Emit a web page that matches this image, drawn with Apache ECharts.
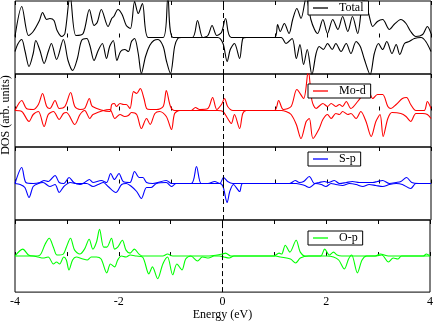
<!DOCTYPE html>
<html>
<head>
<meta charset="utf-8">
<script src="https://cdn.jsdelivr.net/npm/echarts@6/dist/echarts.min.js"></script>
<style>
  html, body { margin: 0; padding: 0; background: #fff; }
  #main { width: 436px; height: 322px; }
</style>
</head>
<body>
<div id="main"></div>
<script>
// projected DOS, [energy (eV), DOS]; spin down is negative
var panelNames = ['Total', 'Mo-d', 'S-p', 'O-p'];
var energyLabels = [-4, -2, 0, 2, 4];

var totalUp = [[-4.00,1],[-3.87,31],[-3.74,2],[-3.65,6],[-3.53,17],[-3.47,25],[-3.39,18],[-3.33,19],[-3.25,17],[-3.19,7],[-3.10,1],[-3.04,4],[-2.94,42],[-2.83,2],[-2.69,4],[-2.57,28],[-2.48,12],[-2.42,15],[-2.34,28],[-2.21,11],[-2.14,19],[-2.10,21],[-2.02,28],[-1.94,23],[-1.86,12],[-1.78,9],[-1.70,36],[-1.63,24],[-1.55,34],[-1.44,0],[-1.15,0],[-1.06,40],[-0.96,0],[-0.59,0],[-0.49,17],[-0.39,0],[-0.29,2],[-0.21,12],[-0.12,2],[-0.03,5],[0.05,19],[0.16,0],[0.99,0],[1.05,13],[1.10,6],[1.18,14],[1.27,4],[1.34,18],[1.42,29],[1.50,19],[1.60,40],[1.69,18],[1.76,8],[1.82,4],[1.92,18],[2.01,4],[2.11,18],[2.21,8],[2.30,21],[2.40,6],[2.49,21],[2.59,4],[2.70,38],[2.80,24],[2.88,11],[2.97,16],[3.07,18],[3.20,8],[3.29,13],[3.42,18],[3.52,14],[3.61,6],[3.71,1],[3.84,3],[3.93,11],[4.00,4]];
var totalDn = [[-4.00,-14],[-3.94,-6],[-3.87,-2],[-3.81,-13],[-3.73,-29],[-3.65,-16],[-3.60,-3],[-3.52,-13],[-3.44,-26],[-3.36,-14],[-3.30,-6],[-3.20,-22],[-3.07,-2],[-2.98,-23],[-2.89,-33],[-2.80,-21],[-2.72,-3],[-2.62,-1],[-2.56,-8],[-2.48,-23],[-2.40,-13],[-2.32,-6],[-2.24,-21],[-2.18,-9],[-2.11,-3],[-2.04,-23],[-1.97,-14],[-1.89,-12],[-1.82,-14],[-1.76,-4],[-1.70,-1],[-1.63,-16],[-1.57,-36],[-1.49,-19],[-1.41,-8],[-1.33,-3],[-1.25,-2],[-1.15,-9],[-1.09,-23],[-1.01,-36],[-0.93,-9],[-0.87,-1],[-0.80,0],[-0.10,0],[0.00,-6],[0.08,-24],[0.14,-12],[0.22,-6],[0.32,-21],[0.38,-1],[0.45,0],[1.12,0],[1.21,-6],[1.33,-1],[1.41,-21],[1.48,-7],[1.55,-27],[1.62,-12],[1.71,-37],[1.79,-16],[1.85,-9],[1.93,-12],[2.01,-6],[2.10,-12],[2.17,-6],[2.27,-14],[2.37,-6],[2.46,-16],[2.56,-4],[2.64,-9],[2.72,-22],[2.83,-37],[2.91,-16],[2.99,-6],[3.07,-12],[3.15,-4],[3.25,-16],[3.33,-7],[3.40,-17],[3.49,-6],[3.58,-4],[3.68,-1],[3.81,0],[3.90,-4],[4.00,-14]];

var modUp = [[-4.00,0],[-3.87,10],[-3.78,2],[-3.65,1],[-3.55,6],[-3.47,17],[-3.39,4],[-3.33,2],[-3.23,10],[-3.15,2],[-3.04,4],[-2.93,18],[-2.85,4],[-2.75,1],[-2.66,2],[-2.57,12],[-2.51,4],[-2.18,-1],[-2.14,6],[-2.09,7],[-2.05,4],[-1.98,7],[-1.91,6],[-1.86,6],[-1.79,2],[-1.72,19],[-1.66,17],[-1.59,22],[-1.52,12],[-1.47,2],[-1.40,1],[-1.28,1],[-1.15,4],[-1.09,20],[-1.01,4],[-0.93,0],[-0.61,0],[-0.53,3],[-0.45,1],[-0.29,2],[-0.20,13],[-0.12,1],[-0.03,6],[0.03,12],[0.09,4],[0.19,0],[0.99,0],[1.07,10],[1.16,1],[1.31,4],[1.42,21],[1.55,12],[1.64,40],[1.71,10],[1.79,2],[1.92,7],[2.01,4],[2.08,7],[2.17,4],[2.24,6],[2.30,4],[2.37,9],[2.46,2],[2.59,9],[2.69,16],[2.78,22],[2.88,12],[2.97,16],[3.07,16],[3.17,4],[3.23,2],[3.33,6],[3.45,12],[3.53,13],[3.61,6],[3.71,0],[3.87,0],[3.93,9],[4.00,2]];
var modDn = [[-4.00,0],[-3.87,-1],[-3.73,-11],[-3.65,-4],[-3.55,-1],[-3.44,-16],[-3.36,-4],[-3.26,-1],[-3.15,-9],[-3.07,-3],[-3.01,-2],[-2.85,-14],[-2.75,-4],[-2.66,0],[-2.56,-8],[-2.50,-4],[-2.18,1],[-2.08,-8],[-1.98,-4],[-1.89,-6],[-1.82,-5],[-1.76,-2],[-1.66,-4],[-1.57,-18],[-1.47,-8],[-1.40,-14],[-1.31,-3],[-1.22,-1],[-1.09,-6],[-0.99,-19],[-0.93,-3],[-0.83,0],[-0.10,0],[0.00,-1],[0.09,-8],[0.16,-13],[0.22,-4],[0.32,-18],[0.38,-3],[0.45,0],[1.12,0],[1.21,-1],[1.31,-4],[1.41,-14],[1.50,-28],[1.60,-11],[1.66,-8],[1.73,-28],[1.85,-18],[1.92,-9],[2.01,-4],[2.08,-8],[2.17,-3],[2.24,-4],[2.30,-1],[2.40,-4],[2.46,-3],[2.56,-8],[2.65,-1],[2.75,-11],[2.85,-26],[2.94,-11],[3.02,-4],[3.08,-26],[3.17,-8],[3.25,-2],[3.42,-3],[3.52,-6],[3.61,-11],[3.71,-3],[3.84,-3],[3.93,-4],[4.00,-8]];

var spUp = [[-4.00,0],[-3.87,16],[-3.79,1],[-3.65,0],[-3.52,1],[-3.44,3],[-3.36,2],[-3.23,8],[-3.15,1],[-3.06,0],[-2.96,6],[-2.87,1],[-2.75,-1],[-2.66,1],[-2.57,4],[-2.50,1],[-2.34,3],[-2.24,1],[-2.16,10],[-2.09,4],[-2.00,10],[-1.92,2],[-1.79,1],[-1.70,12],[-1.61,6],[-1.54,6],[-1.47,1],[-1.35,0],[-1.09,3],[-0.99,0],[-0.61,0],[-0.51,17],[-0.42,0],[-0.29,0],[-0.16,2],[-0.06,0],[0.01,6],[0.09,2],[0.19,0],[1.28,0],[1.39,3],[1.47,1],[1.55,2],[1.66,7],[1.76,0],[1.85,1],[1.95,2],[2.03,1],[2.14,3],[2.24,0],[2.37,1],[2.49,2],[2.62,1],[2.75,1],[2.88,1],[2.97,2],[3.07,3],[3.20,0],[3.33,1],[3.42,2],[3.53,6],[3.63,1],[3.77,0],[4.00,0]];
var spDn = [[-4.00,0],[-3.90,-1],[-3.81,-4],[-3.73,-14],[-3.65,-3],[-3.55,0],[-3.46,1],[-3.33,-3],[-3.23,-1],[-3.15,-9],[-3.06,-3],[-2.94,1],[-2.82,0],[-2.62,0],[-2.50,-3],[-2.40,-1],[-2.30,1],[-2.21,-3],[-2.06,-9],[-1.95,-1],[-1.86,0],[-1.76,-3],[-1.66,-8],[-1.57,-15],[-1.47,-4],[-1.38,-4],[-1.28,0],[-1.09,1],[-0.99,-3],[-0.90,0],[-0.06,0],[0.00,-3],[0.08,-19],[0.13,-8],[0.20,-1],[0.32,-8],[0.38,0],[1.41,0],[1.57,-2],[1.66,-4],[1.78,0],[1.89,-1],[1.98,-3],[2.08,0],[2.17,-1],[2.30,-2],[2.43,0],[2.56,-1],[2.69,-3],[2.81,-1],[2.94,-2],[3.07,-3],[3.20,-1],[3.33,0],[3.45,-1],[3.61,-5],[3.71,0],[4.00,0]];

var opUp = [[-4.00,0],[-3.85,7],[-3.74,1],[-3.65,0],[-3.52,1],[-3.42,12],[-3.34,18],[-3.26,9],[-3.19,1],[-3.07,2],[-3.01,9],[-2.93,18],[-2.85,6],[-2.75,2],[-2.66,7],[-2.57,17],[-2.50,7],[-2.43,14],[-2.37,27],[-2.29,9],[-2.23,9],[-2.14,18],[-2.08,7],[-2.02,9],[-1.93,16],[-1.86,6],[-1.78,3],[-1.70,7],[-1.61,2],[-1.54,0],[-1.15,0],[-1.06,2],[-0.96,0],[-0.26,0],[-0.10,1],[0.00,2],[0.06,3],[0.16,0],[0.99,0],[1.09,3],[1.14,2],[1.21,11],[1.30,4],[1.42,16],[1.50,4],[1.60,0],[1.89,0],[1.97,7],[2.06,1],[2.14,4],[2.21,1],[2.30,0],[2.94,0],[3.04,2],[3.20,0],[3.87,0],[3.93,2],[4.00,0]];
var opDn = [[-4.00,0],[-3.65,0],[-3.55,-1],[-3.46,-2],[-3.36,-1],[-3.26,-8],[-3.20,-6],[-3.14,-8],[-3.06,-1],[-3.01,-4],[-2.96,-14],[-2.89,-4],[-2.82,-1],[-2.69,-3],[-2.61,-4],[-2.53,-1],[-2.43,-1],[-2.34,-3],[-2.23,-17],[-2.16,-8],[-2.08,-11],[-2.02,-4],[-1.95,0],[-1.86,-1],[-1.78,1],[-1.66,0],[-1.54,-1],[-1.42,-18],[-1.35,-11],[-1.25,-23],[-1.15,-8],[-1.06,-1],[-0.96,-19],[-0.88,-8],[-0.78,-14],[-0.71,-3],[-0.61,0],[-0.48,-5],[-0.39,-1],[-0.27,-2],[-0.16,0],[-0.06,0],[0.03,-1],[0.13,-2],[0.22,0],[1.02,0],[1.12,-1],[1.31,-3],[1.41,-7],[1.50,-2],[1.66,0],[2.01,0],[2.14,-1],[2.24,-4],[2.35,-13],[2.43,-3],[2.49,1],[2.60,-17],[2.69,-4],[2.78,0],[2.94,0],[3.07,1],[3.20,-6],[3.29,-2],[3.38,-3],[3.45,0],[4.00,0]];

var upData = [totalUp, modUp, spUp, opUp];
var dnData = [totalDn, modDn, spDn, opDn];
var colors = ['#000000', '#ff0000', '#0000ff', '#00ff00'];
var gridTops = [1, 74, 147, 220];
var legendTops = [1, 84, 152, 231];
var serif = 'Liberation Serif';

var myChart = echarts.init(document.getElementById('main'));

var grids = [], xAxes = [], yAxes = [], series = [], legends = [];
panelNames.forEach(function (name, i) {
  var last = i === panelNames.length - 1;
  grids.push({
    left: 15, right: 5, top: gridTops[i], height: 73,
    show: true, borderColor: '#000', borderWidth: 1
  });
  // bottom axis (labels only on the last panel)
  xAxes.push({
    gridIndex: i, type: 'value', min: -4, max: 4, interval: 1,
    axisLine: { show: false },
    splitLine: { show: false },
    axisTick: { inside: true, length: 4, lineStyle: { color: '#000' } },
    axisLabel: {
      show: last, margin: 4, color: '#000', fontFamily: serif, fontSize: 12,
      formatter: function (v) { return energyLabels.indexOf(v) >= 0 ? String(v) : ''; }
    },
    name: last ? 'Energy (eV)' : '',
    nameLocation: 'middle', nameGap: 16,
    nameTextStyle: { color: '#000', fontFamily: serif, fontSize: 12 }
  });
  // top axis, ticks only
  xAxes.push({
    gridIndex: i, type: 'value', position: 'top', min: -4, max: 4, interval: 1,
    axisLine: { show: false },
    splitLine: { show: false },
    axisTick: { inside: true, length: 4, lineStyle: { color: '#000' } },
    axisLabel: { show: false }
  });
  yAxes.push({ gridIndex: i, type: 'value', min: -36.5, max: 36.5, show: false });

  var line = { color: colors[i], width: 1.1 };
  series.push({
    name: name, type: 'line', xAxisIndex: 2 * i, yAxisIndex: i,
    data: upData[i], smooth: 0.3, symbol: 'none',
    lineStyle: line, itemStyle: { color: colors[i] },
    markLine: {
      silent: true, symbol: ['none', 'none'], label: { show: false },
      lineStyle: { color: '#000', width: 1, type: [5, 3] },
      data: [{ xAxis: 0 }]
    }
  });
  series.push({
    name: name, type: 'line', xAxisIndex: 2 * i, yAxisIndex: i,
    data: dnData[i], smooth: 0.3, symbol: 'none',
    lineStyle: line, itemStyle: { color: colors[i] }
  });

  legends.push({
    data: [name], left: 308, top: legendTops[i],
    icon: 'rect', itemWidth: 15, itemHeight: 1.3, selectedMode: false,
    backgroundColor: '#fff', borderColor: '#000', borderWidth: 1, borderRadius: 0,
    padding: [1, 5, 1, 5],
    textStyle: { color: '#000', fontFamily: serif, fontSize: 12, padding: [0, 0, 0, 6] }
  });
});

var option = {
  animation: false,
  backgroundColor: '#fff',
  grid: grids,
  xAxis: xAxes,
  yAxis: yAxes,
  legend: legends,
  series: series,
  graphic: [{
    type: 'text', x: 6, y: 115, rotation: Math.PI / 2,
    style: {
      text: 'DOS (arb. units)', fill: '#000', font: '12px "Liberation Serif"',
      textAlign: 'center', textVerticalAlign: 'middle'
    }
  }]
};
myChart.setOption(option);
</script>
</body>
</html>
